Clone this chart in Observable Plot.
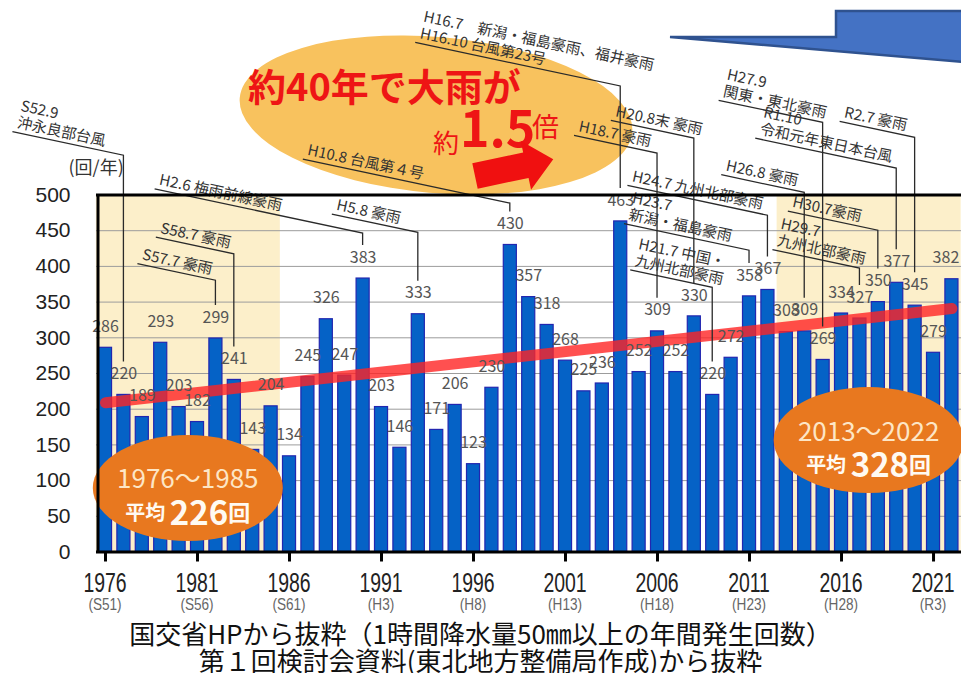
<!DOCTYPE html>
<html><head><meta charset="utf-8">
<script src="https://cdn.jsdelivr.net/npm/d3@7"></script>
<script src="https://cdn.jsdelivr.net/npm/@observablehq/plot@0.6"></script>
<style>
body{margin:0;background:#fff;}
#cap{width:961px;text-align:center;font-family:"Noto Sans CJK JP";font-size:26px;line-height:27px;color:#111;padding-top:5px;font-weight:400}
</style></head><body>
<div id="chart"></div>
<div id="cap"><div>国交省HPから抜粋（1時間降水量50㎜以上の年間発生回数）</div><div>第１回検討会資料(東北地方整備局作成)から抜粋</div></div>
<script>
// ---------- data ----------
const years = [1976,1977,1978,1979,1980,1981,1982,1983,1984,1985,
  1986,1987,1988,1989,1990,1991,1992,1993,1994,1995,
  1996,1997,1998,1999,2000,2001,2002,2003,2004,2005,
  2006,2007,2008,2009,2010,2011,2012,2013,2014,2015,
  2016,2017,2018,2019,2020,2021,2022];
const counts = [286,220,189,293,203,182,299,241,143,204,
  134,245,326,247,383,203,146,333,171,206,
  123,230,430,357,318,268,225,236,463,252,
  309,252,330,220,272,358,367,308,309,269,
  334,327,350,377,345,279,382];
const tickYears = [1976,1981,1986,1991,1996,2001,2006,2011,2016,2021];
const eraLabels = ["(S51)","(S56)","(S61)","(H3)","(H8)","(H13)","(H18)","(H23)","(H28)","(R3)"];
const yTicks = [0,50,100,150,200,250,300,350,400,450,500];
const periodStarts = [1976, 2013];
const periodEnds = [1985, 2022];
const periodLabels = ["1976～1985", "2013～2022"];
const periodAverages = [226, 328];
const trendYears = [1976, 2022];
const trendValues = [209, 341];
const eventYears = [1977,1982,1983,1990,1993,1998,2004,2006,2008,2009,2011,2012,2014,2015,2017,2018,2019,2020];
const eventLabels = [
  "S52.9\n沖永良部台風",
  "S57.7 豪雨",
  "S58.7 豪雨",
  "H2.6 梅雨前線豪雨",
  "H5.8 豪雨",
  "H10.8 台風第４号",
  "H16.7　新潟・福島豪雨、福井豪雨\nH16.10 台風第23号",
  "H18.7 豪雨",
  "H20.8末 豪雨",
  "H21.7 中国・\n九州北部豪雨",
  "H23.7\n新潟・福島豪雨",
  "H24.7 九州北部豪雨",
  "H26.8 豪雨",
  "H27.9\n関東・東北豪雨",
  "H29.7\n九州北部豪雨",
  "H30.7豪雨",
  "R1.10\n令和元年東日本台風",
  "R2.7 豪雨"
];

// ---------- layout (leader elbows in y units, leader lengths in px) ----------
const leaderLayout = [
  [555,111],[380,78],[417,78],[446,208],[447,86],[488,207],[652,205],[558,83],[579,83],
  [370,82],[422,125],[471,140],[503,83],[601,104],[397,87],[450,90],[537,141],[580,75]
];
const periodEllipseY = [89, 156];

const data = years.map((year, i) => ({year, count: counts[i]}));
const lastYear = years[years.length - 1];
const countOf = y => counts[years.indexOf(y)];
const xDomain = [1975.51, 2022.52];
const FONT = "Noto Sans CJK JP";

function decorations(index, scales) {
  const {x, y} = scales;
  const g = d3.create("svg:g").attr("text-anchor", "start");
  // top banner ellipse
  g.append("ellipse").attr("cx", 436).attr("cy", 115).attr("rx", 197).attr("ry", 78)
    .attr("transform", "rotate(5 436 115)").attr("fill", "#f8c25e");
  g.append("text").attr("x", 248).attr("y", 101).attr("font-family", FONT)
    .attr("font-size", 38).attr("font-weight", 700).attr("fill", "#ee1515").text("約40年で大雨が");
  const t2 = g.append("text").attr("font-family", FONT).attr("fill", "#ee1515");
  t2.append("tspan").attr("x", 433).attr("y", 153).attr("font-size", 26).text("約");
  t2.append("tspan").attr("x", 460).attr("y", 147).attr("font-size", 50).attr("font-weight", 700).text("1.5");
  t2.append("tspan").attr("x", 532).attr("y", 137).attr("font-size", 27).text("倍");
  // red arrow
  g.append("path").attr("d", "M0,-13L52,-13L52,-25L80,0L52,25L52,13L0,13Z")
    .attr("transform", "translate(475,176) rotate(-12)").attr("fill", "#f01010");
  // blue callout
  g.append("path").attr("d", "M670,37L836,37L836,11L963,11L963,62Z")
    .attr("fill", "#4472c4").attr("stroke", "#2f528f").attr("stroke-width", 2.5);
  // period ellipses
  periodStarts.forEach((s, i) => {
    const cx = (x(s) + x(periodEnds[i])) / 2, cy = y(periodEllipseY[i]);
    g.append("ellipse").attr("cx", cx).attr("cy", cy).attr("rx", 95).attr("ry", 53).attr("fill", "#e8781f");
    g.append("text").attr("x", cx).attr("y", cy - 11).attr("text-anchor", "middle").attr("dominant-baseline", "central")
      .attr("font-family", FONT).attr("font-size", 26).attr("fill", "#fde6c6").text(periodLabels[i]);
    const t = g.append("text").attr("x", cx).attr("y", cy + 23).attr("text-anchor", "middle").attr("dominant-baseline", "central")
      .attr("font-family", FONT).attr("font-weight", 700).attr("fill", "#fffaf2");
    t.append("tspan").attr("font-size", 20).text("平均 ");
    t.append("tspan").attr("font-size", 33).text(String(periodAverages[i]));
    t.append("tspan").attr("font-size", 22).text("回");
  });
  return g.node();
}

function annotations(index, scales) {
  const {x, y} = scales;
  const g = d3.create("svg:g").attr("text-anchor", "start");
  const ang = 12, tn = Math.tan(ang * Math.PI / 180);
  eventYears.forEach((yr, i) => {
    const [elbow, span] = leaderLayout[i];
    const ex = x(yr), ey = y(elbow);
    const sx = ex - span, sy = ey - span * tn;
    const endY = y(countOf(yr)) - 33;
    g.append("path").attr("d", `M${sx},${sy}L${ex},${ey}L${ex},${endY}`)
      .attr("fill", "none").attr("stroke", "#2a2a2a").attr("stroke-width", 1.3);
    const lines = eventLabels[i].split("\n");
    const tg = g.append("g").attr("transform", `translate(${sx},${sy}) rotate(${ang})`);
    lines.forEach((ln, j) => {
      tg.append("text").attr("x", 3).attr("y", -5 - (lines.length - 1 - j) * 17)
        .attr("font-family", FONT).attr("font-size", 15).attr("fill", "#333").text(ln);
    });
  });
  return g.node();
}

function xLabels(index, scales) {
  const {x, y} = scales;
  const g = d3.create("svg:g").attr("text-anchor", "middle");
  tickYears.forEach((yr, i) => {
    g.append("text").attr("transform", `translate(${x(yr)},${y(0) + 40}) scale(0.72,1)`)
      .attr("font-family", "Liberation Sans").attr("font-size", 27).attr("fill", "#222").text(String(yr));
    g.append("text").attr("transform", `translate(${x(yr)},${y(0) + 58}) scale(0.85,1)`)
      .attr("font-family", "Liberation Sans").attr("font-size", 16).attr("fill", "#666").text(eraLabels[i]);
  });
  return g.node();
}

const plot = Plot.plot({
  width: 961, height: 614,
  marginLeft: 96, marginRight: 0, marginTop: 194.5, marginBottom: 62.5,
  x: {type: "linear", domain: xDomain, axis: null},
  y: {domain: [0, 500], axis: null},
  style: {background: "transparent", overflow: "visible"},
  marks: [
    Plot.rect(periodStarts.map((s, i) => ({s, e: periodEnds[i]})),
      {x1: d => d.s - 0.5, x2: d => d.e + 0.5, y1: 0, y2: 500, fill: "#fcefca"}),
    Plot.ruleY(yTicks.filter(v => v > 0 && v < 500), {stroke: "#9c9c9c", strokeWidth: 1}),
    Plot.rectY(data, {x1: d => d.year - 0.355, x2: d => d.year + 0.355, y: "count",
      fill: "#0562c6", stroke: "#2226b0", strokeWidth: 1.2}),
    Plot.line(trendYears.map((yr, i) => ({yr, v: trendValues[i]})),
      {x: "yr", y: "v", stroke: "#ff2424", strokeOpacity: 0.8, strokeWidth: 11, strokeLinecap: "round"}),
    Plot.text(data.filter(d => d.year !== lastYear), {x: "year", y: "count", text: d => String(d.count), dy: -21,
      fontSize: 16, fontFamily: FONT, fill: "#555"}),
    Plot.text(data.filter(d => d.year === lastYear), {x: "year", y: "count", text: d => String(d.count), dy: -21, dx: -6,
      fontSize: 16, fontFamily: FONT, fill: "#555"}),
    decorations,
    annotations,
    Plot.ruleY([0, 500], {stroke: "#000", strokeWidth: 3}),
    Plot.ruleX([xDomain[0]], {y1: 0, y2: 500, dx: 1.5, stroke: "#000", strokeWidth: 3}),
    Plot.ruleX(tickYears, {x: d => d, y1: 0, y2: 0, insetTop: 0, insetBottom: -10, stroke: "#000", strokeWidth: 3}),
    Plot.text(yTicks, {y: d => d, frameAnchor: "left", textAnchor: "end", dx: -26, text: d => String(d),
      fontSize: 21, fontFamily: "Liberation Sans", fill: "#222"}),
    Plot.text(["(回/年)"], {frameAnchor: "top-left", dx: -28, dy: -34, text: d => d,
      fontSize: 18, fontFamily: FONT, fill: "#333"}),
    xLabels
  ]
});
document.getElementById("chart").appendChild(plot);
</script>
</body></html>
